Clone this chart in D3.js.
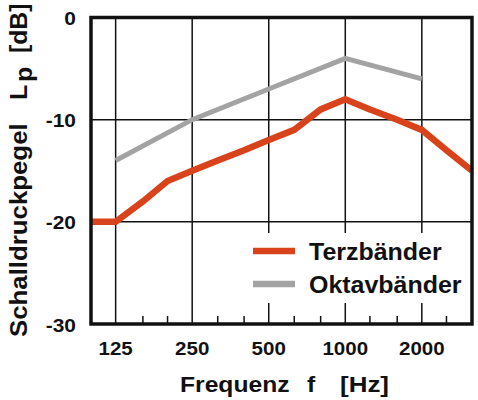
<!DOCTYPE html>
<html>
<head>
<meta charset="utf-8">
<script src="https://cdnjs.cloudflare.com/ajax/libs/d3/7.8.5/d3.min.js"></script>
<style>
  body { margin: 0; background: #fff; }
  text { font-family: "Liberation Sans", Arial, sans-serif; font-weight: bold; fill: #111; }
</style>
</head>
<body>
<script>
var width = 478,
    height = 400;

// third-octave bands (Terzbänder)
var terzFreq = [100, 125, 160, 200, 250, 315, 400, 500, 630, 800, 1000, 1250, 1600, 2000, 2500, 3150];
var terzLevel = [-20, -20, -18, -16, -15, -14, -13, -12, -11, -9, -8, -9, -10, -11, -13, -15];

// octave bands (Oktavbänder)
var oktavFreq = [125, 250, 500, 1000, 2000];
var oktavLevel = [-14, -10, -7, -4, -6];

var xTicks = [125, 250, 500, 1000, 2000];
var xMinor = [160, 200, 315, 400, 630, 800, 1250, 1600, 2500];
var yTicks = [0, -10, -20, -30];

var seriesNames = ["Terzbänder", "Oktavbänder"];
var seriesColors = ["#d8431b", "#a3a3a3"];

var plotL = 91, plotR = 472, plotT = 17.5, plotB = 324;

var x = d3.scaleLog().domain([100, 3150]).range([plotL, plotR]);
var y = d3.scaleLinear().domain([-30, 0]).range([plotB, plotT]);

var svg = d3.select("body").append("svg")
    .attr("width", width)
    .attr("height", height);

// widen glyphs a bit, the original lettering runs wider than Arial
function stretch(sel, k) {
  sel.each(function() {
    var w = this.getComputedTextLength();
    d3.select(this).attr("textLength", w * k).attr("lengthAdjust", "spacingAndGlyphs");
  });
}

// grid
svg.append("g").selectAll("line")
    .data(xTicks)
  .enter().append("line")
    .attr("x1", function(d) { return x(d); })
    .attr("x2", function(d) { return x(d); })
    .attr("y1", plotT).attr("y2", plotB)
    .attr("stroke", "#111").attr("stroke-width", 1.5);

svg.append("g").selectAll("line")
    .data(yTicks.filter(function(d) { return d > -30 && d < 0; }))
  .enter().append("line")
    .attr("x1", plotL).attr("x2", plotR)
    .attr("y1", function(d) { return y(d); })
    .attr("y2", function(d) { return y(d); })
    .attr("stroke", "#111").attr("stroke-width", 1.5);

// minor ticks on the bottom
svg.append("g").selectAll("line")
    .data(xMinor)
  .enter().append("line")
    .attr("x1", function(d) { return x(d); })
    .attr("x2", function(d) { return x(d); })
    .attr("y1", plotB).attr("y2", plotB - 8)
    .attr("stroke", "#111").attr("stroke-width", 1.5);

// legend background hides the grid
svg.append("rect")
    .attr("x", 248).attr("y", 233)
    .attr("width", 222).attr("height", 70)
    .attr("fill", "#fff");

var line = d3.line()
    .x(function(d) { return x(d[0]); })
    .y(function(d) { return y(d[1]); });

svg.append("path")
    .datum(oktavFreq.map(function(f, i) { return [f, oktavLevel[i]]; }))
    .attr("d", line)
    .attr("fill", "none")
    .attr("stroke", seriesColors[1])
    .attr("stroke-width", 5);

svg.append("path")
    .datum(terzFreq.map(function(f, i) { return [f, terzLevel[i]]; }))
    .attr("d", line)
    .attr("fill", "none")
    .attr("stroke", seriesColors[0])
    .attr("stroke-width", 6.5)
    .attr("stroke-linejoin", "miter");

// frame
svg.append("rect")
    .attr("x", plotL).attr("y", plotT)
    .attr("width", plotR - plotL).attr("height", plotB - plotT)
    .attr("fill", "none")
    .attr("stroke", "#111")
    .attr("stroke-width", 3.5);

// tick labels
svg.append("g").selectAll("text")
    .data(xTicks)
  .enter().append("text")
    .attr("x", function(d) { return x(d); })
    .attr("y", 355)
    .attr("text-anchor", "middle")
    .style("font-size", "19px")
    .text(function(d) { return d; })
    .call(stretch, 1.08);

svg.append("g").selectAll("text")
    .data(yTicks)
  .enter().append("text")
    .attr("x", 76)
    .attr("y", function(d) { return y(d) + 7.5; })
    .attr("text-anchor", "end")
    .style("font-size", "19px")
    .text(function(d) { return d; })
    .call(stretch, 1.1);

// x title
var xt = svg.append("g").style("font-size", "22px");
xt.append("text").attr("x", 180).attr("y", 392).text("Frequenz").call(stretch, 1.12);
xt.append("text").attr("x", 307).attr("y", 392).text("f").call(stretch, 1.12);
xt.append("text").attr("x", 340).attr("y", 392).text("[Hz]").call(stretch, 1.18);

// y title (rotated)
var yt = svg.append("g")
    .attr("transform", "translate(27,337) rotate(-90)")
    .style("font-size", "24px");
yt.append("text").attr("x", 0).attr("y", 0).text("Schalldruckpegel").call(stretch, 1.075);
yt.append("text").attr("x", 237).attr("y", 0).text("L").call(stretch, 1.05);
yt.append("text").attr("x", 255).attr("y", 5).text("p").call(stretch, 1.05);
yt.append("text").attr("x", 284).attr("y", 0).text("[dB]").call(stretch, 1.03);

// legend
var lg = svg.append("g").selectAll("g")
    .data(seriesNames)
  .enter().append("g")
    .attr("transform", function(d, i) { return "translate(0," + (251 + i * 33) + ")"; });

lg.append("line")
    .attr("x1", 253).attr("x2", 295)
    .attr("stroke", function(d, i) { return seriesColors[i]; })
    .attr("stroke-width", 6.5);

lg.append("text")
    .attr("x", 309)
    .attr("y", 9)
    .style("font-size", "24px")
    .text(function(d) { return d; })
    .call(stretch, 1.04);
</script>
</body>
</html>
